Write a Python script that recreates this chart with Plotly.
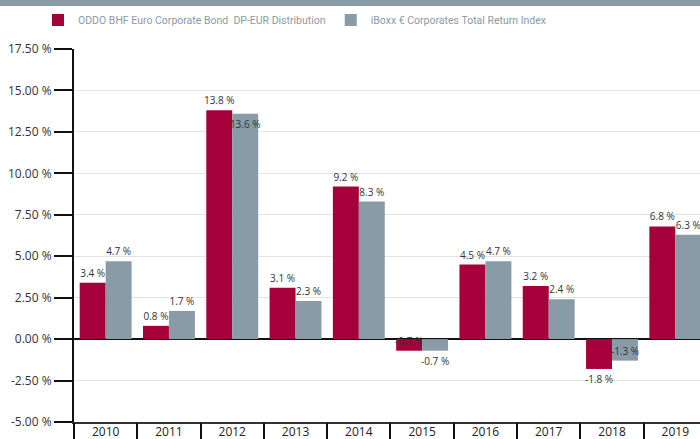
import plotly.graph_objects as go

years = ["2010", "2011", "2012", "2013", "2014", "2015", "2016", "2017", "2018", "2019"]
fund = [3.4, 0.8, 13.8, 3.1, 9.2, -0.7, 4.5, 3.2, -1.8, 6.8]
index = [4.7, 1.7, 13.6, 2.3, 8.3, -0.7, 4.7, 2.4, -1.3, 6.3]
fund_name = "ODDO BHF Euro Corporate Bond\u00a0 DP-EUR Distribution"
index_name = "iBoxx € Corporates Total Return Index"
y_ticks = [-5, -2.5, 0, 2.5, 5, 7.5, 10, 12.5, 15, 17.5]

RED = "#a5003a"
GREY = "#8a9ba8"
FONT = "Open Sans, Liberation Sans, sans-serif"

fund_pos = ["inside" if i == 5 else "outside" for i in range(len(years))]
index_pos = ["inside" if i in (2, 8) else "outside" for i in range(len(years))]

fig = go.Figure()
fig.add_trace(go.Bar(
    x=years, y=fund, name=fund_name, marker=dict(color=RED, line=dict(width=0)),
    text=[f"{v:.1f} %" for v in fund], textposition=fund_pos, textangle=0,
    insidetextanchor="end", constraintext="none",
    textfont=dict(size=10, color="#333333", family=FONT), cliponaxis=False,
    hoverinfo="skip",
))
fig.add_trace(go.Bar(
    x=years, y=index, name=index_name, marker=dict(color=GREY, line=dict(width=0)),
    text=[f"{v:.1f} %" for v in index], textposition=index_pos, textangle=0,
    insidetextanchor="end", constraintext="none",
    textfont=dict(size=10, color="#333333", family=FONT), cliponaxis=False,
    hoverinfo="skip",
))

xr = [-0.5, 9.39]
fig.update_layout(
    width=700, height=439,
    margin=dict(l=74, r=0, t=49, b=17, pad=0, autoexpand=False),
    paper_bgcolor="white", plot_bgcolor="white",
    font=dict(family=FONT, color="#333333", size=12),
    barmode="group", bargap=0.18, bargroupgap=0,
    showlegend=True,
    legend=dict(orientation="h", x=-0.0575, xanchor="left", y=1 + 29/373, yanchor="middle",
                font=dict(size=10.5, color="#8c9aa5", family="Roboto, sans-serif"),
                bgcolor="rgba(0,0,0,0)", itemsizing="constant"),
    xaxis=dict(type="category", range=xr, showline=True, linecolor="#333333", linewidth=2,
               ticks="", showgrid=False, tickfont=dict(size=12, color="#222222"),
               ticklabelstandoff=-2,
               zeroline=False, fixedrange=True, automargin=False),
    xaxis2=dict(overlaying="x", anchor="y", side="bottom", range=xr,
                tickvals=[i - 0.5 for i in range(len(years) + 1)],
                ticks="outside", ticklen=17, tickwidth=2, tickcolor="#111111",
                showticklabels=False, showgrid=False, zeroline=False, showline=False,
                automargin=False),
    yaxis=dict(range=[-5, 17.5], tickvals=y_ticks,
               ticktext=[f"{v:.2f} %" for v in y_ticks],
               ticks="outside", ticklen=18, tickwidth=2, tickcolor="#111111",
               showline=True, linecolor="#111111", linewidth=2,
               showgrid=True, gridcolor="#e3e3e3", gridwidth=1,
               zeroline=True, zerolinecolor="#111111", zerolinewidth=1.5,
               tickfont=dict(size=12, color="#333333"), fixedrange=True, automargin=False),
    shapes=[dict(type="rect", xref="paper", yref="paper",
                 x0=-74/626, x1=1.0, y0=1 + 43/373, y1=1 + 49/373,
                 fillcolor=GREY, line=dict(width=0), layer="above")],
)
# invisible helper trace to activate the boundary-tick axis
fig.add_trace(go.Scatter(x=[0], y=[0], xaxis="x2", yaxis="y", mode="markers",
                         marker=dict(opacity=0), showlegend=False, hoverinfo="skip"))

fig.write_html("out.html")
